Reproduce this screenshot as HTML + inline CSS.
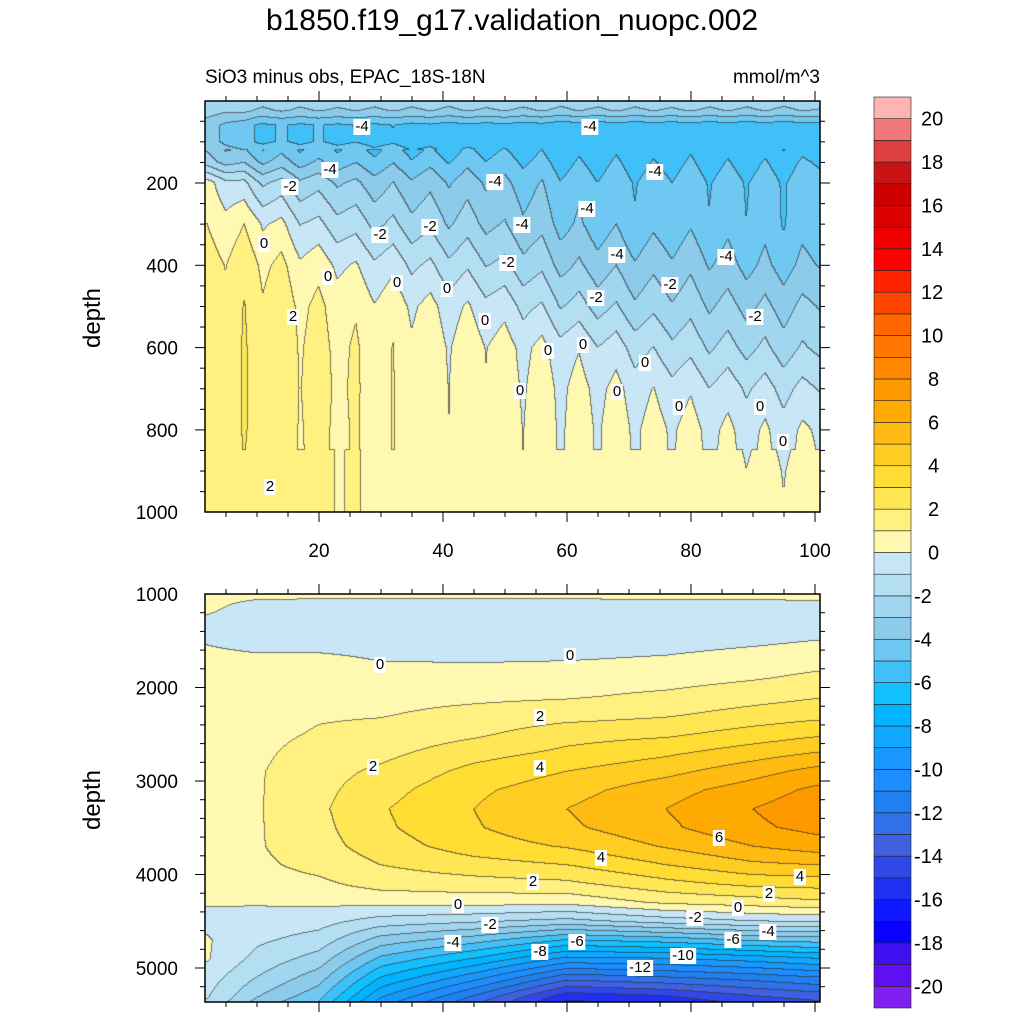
<!DOCTYPE html>
<html><head><meta charset="utf-8">
<style>
html,body{margin:0;padding:0;background:#fff;}
#root{position:relative;width:1024px;height:1024px;font-family:"Liberation Sans",sans-serif;color:#000;overflow:hidden;}
.t{position:absolute;white-space:nowrap;}
canvas{position:absolute;}
.lab{position:absolute;background:#fff;font-size:15px;line-height:16px;padding:0 2px;transform:translate(-50%,-50%);}
</style></head><body>
<div id="root">
<div class="t" style="left:0;width:1024px;text-align:center;top:4px;font-size:30px;">b1850.f19_g17.validation_nuopc.002</div>
<div class="t" style="left:205px;top:67px;font-size:19px;">SiO3 minus obs, EPAC_18S-18N</div>
<div class="t" style="left:680px;width:140px;text-align:right;top:67px;font-size:19px;">mmol/m^3</div>
<div class="t" style="left:93px;top:318px;font-size:24px;transform:translate(-50%,-50%) rotate(-90deg);">depth</div>
<div class="t" style="left:93px;top:800px;font-size:24px;transform:translate(-50%,-50%) rotate(-90deg);">depth</div>
<canvas id="cTop" width="615" height="411" style="left:205px;top:101px;"></canvas>
<canvas id="cBot" width="615" height="408" style="left:205px;top:594px;"></canvas>
<svg id="ov" width="1024" height="1024" style="position:absolute;left:0;top:0;"></svg>
<div id="labs"></div>
</div>
<script>
// ---- data ----
const colorLevels = [-20,-19,-18,-17,-16,-15,-14,-13,-12,-11,-10,-9,-8,-7,-6,-5,-4,-3,-2,-1,0,1,2,3,4,5,6,7,8,9,10,11,12,13,14,15,16,17,18,19,20];
const colorFills = ["#8020f0","#6010f0","#4010f0","#0a00ff","#1018ff","#2030f0","#3048e8","#4060e0","#3070e8","#2080f0","#1e8cff","#1898ff","#10a8ff","#00b4ff","#10c0ff","#40c0f8","#6ec8f2","#8ccbea","#a0d6f0","#b4def2","#c8e6f5",
"#fff8b0","#fff080","#ffe655","#ffdd33","#ffcc22","#ffbb11","#ffaa00","#ff9900","#ff8800","#ff7700","#ff6600","#ff4400","#ff2200","#ff0000","#ee0000","#dd0000","#cc0000","#c81414","#dc4040","#f07878","#ffb4b4"];
const cbarLabels = [20,18,16,14,12,10,8,6,4,2,0,-2,-4,-6,-8,-10,-12,-14,-16,-18,-20];

const topX = [2,10,20,30,40,50,60,70,80,90,100];
const topDepth = [0,25,60,100,150,200,300,400,500,600,700,800,900,1000];
const topVals = [
[-2,-2.5,-2.5,-2.5,-2.5,-2.5,-2.5,-2.5,-2.5,-2.5,-2.5],
[-2.5,-3,-3,-3,-3,-3,-3,-3,-3,-3,-3],
[-3.5,-5,-5,-5,-5.2,-5.2,-5.4,-5.4,-5.4,-5.4,-5.4],
[-3.5,-5,-5,-5.1,-5.3,-5.3,-5.6,-5.6,-5.5,-5.6,-5.6],
[-2.5,-3.6,-4,-4.2,-4.4,-4.5,-4.9,-5.0,-5.0,-5.0,-4.9],
[0.5,-1.5,-2.5,-3.1,-3.4,-3.8,-4.3,-4.5,-4.5,-4.5,-4.4],
[1,0.6,-0.9,-1.8,-2.4,-3,-3.8,-4.3,-4.3,-4.4,-4.4],
[1.5,1.4,0.5,-0.3,-1,-1.8,-2.8,-3.3,-3.4,-3.8,-3.8],
[1.6,1.8,1.1,0.6,0.2,-0.4,-1.5,-2.2,-2.5,-2.8,-2.8],
[1.6,1.9,1.3,0.9,0.6,0.4,0,-0.8,-1.5,-1.8,-2],
[1.6,1.9,1.4,0.9,0.7,0.5,0.4,0.1,-0.3,-0.6,-0.8],
[1.6,1.9,1.3,0.9,0.7,0.6,0.5,0.4,0.3,0.1,0.1],
[1.6,1.7,1.3,0.9,0.7,0.6,0.5,0.4,0.4,0.3,0.3],
[1.6,1.6,1.3,0.9,0.7,0.6,0.5,0.4,0.4,0.4,0.4]];
const stripeX = [2,5,8,11,14,17,20,23,26,29,32,35,38,41,44,47,50,53,56,59,62,65,68,71,74,77,80,83,86,89,92,95,98,101];
const stripeVals = [0,-0.5,0.3,-0.6,0.3,-0.6,0.2,-0.5,0.1,-0.6,0.2,-0.6,0.1,-0.7,0.2,-0.5,0.1,-0.6,0.2,-0.7,0.1,-0.6,0.2,-0.6,0.1,-0.5,0.2,-0.6,0.1,-0.6,0.1,-0.7,0.1,-0.3];

const botX = [2,10,20,30,45,60,76,90,100];
const botDepth = [1000,1150,1300,1500,1700,1900,2100,2300,2500,2700,2900,3100,3300,3500,3700,3900,4100,4300,4500,4700,4900,5100,5300,5400];
const botCols = [
[.3,.2,-.2,-.1,.3,.4,.5,.5,.6,.6,.6,.6,.6,.6,.6,.5,.4,.1,-.3,.1,.1,-.5,-.9,-1.2],
[.3,-.4,-.5,-.4,.2,.4,.5,.6,.7,.8,.9,.9,.9,.9,.9,.8,.6,.1,-.4,-.8,-1.3,-2.0,-2.9,-3.5],
[.3,-.5,-.6,-.4,.2,.5,.7,.9,1.1,1.4,1.6,1.7,1.8,1.7,1.6,1.3,.8,.2,-.6,-1.4,-2.4,-3.5,-4.6,-5.3],
[.3,-.5,-.6,-.4,-.05,.4,.7,.95,1.3,1.7,2.2,2.6,2.9,2.8,2.5,2.0,1.4,.3,-1.4,-3.4,-5.2,-7.0,-8.8,-9.8],
[.3,-.5,-.6,-.5,-.1,.4,.8,1.3,1.8,2.6,3.3,3.8,4.0,3.9,3.5,2.6,1.6,.4,-1.8,-4.5,-7,-9.5,-12,-13],
[.3,-.5,-.6,-.5,-.05,.5,.9,1.6,2.6,3.2,4.0,4.6,5.0,4.8,4.1,3.0,1.8,.3,-2.3,-6,-9.2,-12.5,-15.5,-16.5],
[.3,-.4,-.5,-.4,.1,.6,1.2,1.9,2.8,3.8,4.7,5.6,6.0,5.8,5.1,4.0,2.7,1.2,-1.5,-5.5,-9,-12,-15,-16],
[.3,-.4,-.5,-.2,.4,.9,1.6,2.4,3.4,4.5,5.6,6.5,7.0,6.8,6.0,4.8,3.3,1.5,-1,-4.8,-8.5,-11.5,-14,-15],
[.3,-.3,-.4,.0,.6,1.2,1.9,2.7,3.8,5.0,6.3,7.2,7.6,7.3,6.5,5.0,3.4,1.8,-.8,-4.5,-8,-11,-13.5,-14.5]];

const topLabels = [["-4",362,127],["-4",590,127],["-4",330,170],["-2",290,187],["-4",495,182],["-4",655,172],["-4",587,209],["0",264,244],["-2",380,235],["-2",430,227],["-4",522,225],["-2",508,263],["-4",617,255],["-4",726,257],["0",328,277],["0",397,283],["0",447,289],["-2",596,298],["-2",670,285],["-2",755,317],["0",485,321],["2",293,317],["0",548,351],["0",583,345],["0",645,363],["0",520,391],["0",617,392],["0",679,407],["0",760,407],["0",783,442],["2",270,487]];
const botLabels = [["0",380,665],["0",570,656],["2",540,717],["2",373,767],["4",540,768],["6",719,838],["4",601,858],["2",533,882],["4",800,877],["2",769,894],["0",458,905],["0",738,908],["-2",490,925],["-2",695,918],["-4",768,932],["-4",453,943],["-6",577,942],["-6",733,940],["-8",540,952],["-10",683,956],["-12",640,968]];

// ---- axes ----
const PX0=205, PX1=820;
const xToPx = x => 195 + 6.2*x;
const pxToX = p => (p-195)/6.2;
const topY = d => 100.7 + d*0.4115;
const botY = d => 594 + (d-1000)*0.0935;

function findIdx(arr,v){ let i=0; while(i<arr.length-2 && v>arr[i+1]) i++; let t=(v-arr[i])/(arr[i+1]-arr[i]); t=Math.max(0,Math.min(1,t)); return [i,t]; }
function interp1(xs,ys,v){ const [i,t]=findIdx(xs,v); return ys[i]*(1-t)+ys[i+1]*t; }
function hex(c){return [parseInt(c.slice(1,3),16),parseInt(c.slice(3,5),16),parseInt(c.slice(5,7),16)];}
const rgb = colorFills.map(hex);
function levelIdx(v){ let k=Math.floor(v)+21; return Math.max(0,Math.min(41,k)); }

function topField(x,d){
  const [j,tj]=findIdx(topDepth,d); const [i,ti]=findIdx(topX,x);
  const a=topVals[j][i],b=topVals[j][i+1],c=topVals[j+1][i],e=topVals[j+1][i+1];
  let v=(a*(1-ti)+b*ti)*(1-tj)+(c*(1-ti)+e*ti)*tj;
  const w = d<120?0.3:(d<850?1:0.5);
  return v + w*interp1(stripeX,stripeVals,x);
}
function botField(x,d){
  const [i,ti]=findIdx(botX,x);
  return interp1(botDepth,botCols[i],d)*(1-ti)+interp1(botDepth,botCols[i+1],d)*ti;
}
function render(id,top,field,yToD){
  const cv=document.getElementById(id),ctx=cv.getContext('2d');
  const W=cv.width,H=cv.height,img=ctx.createImageData(W,H);
  const K=new Int16Array(W*H);
  for(let py=0;py<H;py++){const d=yToD(top+py+0.5);
    for(let px=0;px<W;px++){K[py*W+px]=levelIdx(field(pxToX(PX0+px+0.5),d));}}
  for(let py=0;py<H;py++)for(let px=0;px<W;px++){
    const k=K[py*W+px]; let c=rgb[k];
    let edge=(px<W-1&&K[py*W+px+1]!==k)||(py<H-1&&K[(py+1)*W+px]!==k);
    const o=(py*W+px)*4;
    if(edge){img.data[o]=c[0]*0.35+30;img.data[o+1]=c[1]*0.35+30;img.data[o+2]=c[2]*0.35+30;}
    else{img.data[o]=c[0];img.data[o+1]=c[1];img.data[o+2]=c[2];}
    img.data[o+3]=255;}
  ctx.putImageData(img,0,0);
}
render('cTop',101,topField,y=>(y-100.7)/0.4115);
render('cBot',594,botField,y=>1000+(y-594)/0.0935);

const NS='http://www.w3.org/2000/svg';
const ov=document.getElementById('ov');
function ln(x1,y1,x2,y2,w,name){const l=document.createElementNS(NS,'line');
l.setAttribute('x1',x1);l.setAttribute('y1',y1);l.setAttribute('x2',x2);l.setAttribute('y2',y2);
l.setAttribute('stroke','#000');l.setAttribute('stroke-width',w);


ov.appendChild(l);}
function txt(s,x,y,anchor,size,name){const t=document.createElementNS(NS,'text');
t.setAttribute('x',x);t.setAttribute('y',y);t.setAttribute('text-anchor',anchor);
t.setAttribute('font-size',size);t.setAttribute('font-family','Liberation Sans, sans-serif');
t.textContent=s;


ov.appendChild(t);}
function frame(y0,y1,name){const r=document.createElementNS(NS,'rect');
r.setAttribute('x',PX0);r.setAttribute('y',y0);r.setAttribute('width',PX1-PX0);r.setAttribute('height',y1-y0);
r.setAttribute('fill','none');r.setAttribute('stroke','#000');r.setAttribute('stroke-width',1.5);


ov.appendChild(r);}
function xticks(y0,y1,labels){
  for(let x=5;x<=100;x+=5){const p=xToPx(x),maj=x%20===0,L=maj?10:5;
    ln(p,y0,p,y0-L,1,'x-tick'); ln(p,y1,p,y1+L,1,'x-tick');
    if(maj&&labels) txt(String(x),p,y1+45,'middle',19,'x-tick-label');}
}
// top panel
frame(101,512,'top-panel-frame');
xticks(101,512,true);
for(let d=50;d<1000;d+=50){const y=topY(d),maj=d%200===0,L=maj?10:5;
  ln(PX0,y,PX0-L,y,1,'y-tick'); ln(PX1,y,PX1+L,y,1,'y-tick');}
for(const d of [200,400,600,800,1000]) txt(String(d),178,topY(d)+7,'end',19,'y-tick-label');
// bottom panel
frame(594,1002,'bottom-panel-frame');
xticks(594,1002,false);
for(let d=1200;d<5360;d+=200){const y=botY(d),maj=d%1000===0,L=maj?10:5;
  ln(PX0,y,PX0-L,y,1,'y-tick'); ln(PX1,y,PX1+L,y,1,'y-tick');}
for(const d of [1000,2000,3000,4000,5000]) txt(String(d),178,botY(d)+7,'end',19,'y-tick-label');

// colorbar
const cbTop=97, cbBox=911/42;
for(let k=0;k<42;k++){const r=document.createElementNS(NS,'rect');
  r.setAttribute('x',874);r.setAttribute('y',cbTop+(41-k)*cbBox);r.setAttribute('width',37);r.setAttribute('height',cbBox);
  r.setAttribute('fill',colorFills[k]);r.setAttribute('stroke','#222');r.setAttribute('stroke-width',0.6);
  
  
  ov.appendChild(r);}
for(const v of cbarLabels){const y=cbTop+(21-v)*cbBox; txt(String(v),v<0?914:(v>=10?921:928),y+7,'start',20,'colorbar-label');}

// contour labels
const labs=document.getElementById('labs');
for(const [s,x,y] of topLabels.concat(botLabels)){const d=document.createElement('div');
  d.className='lab';d.style.left=x+'px';d.style.top=y+'px';d.textContent=s;
  
  
  labs.appendChild(d);}
</script>
</body></html>
